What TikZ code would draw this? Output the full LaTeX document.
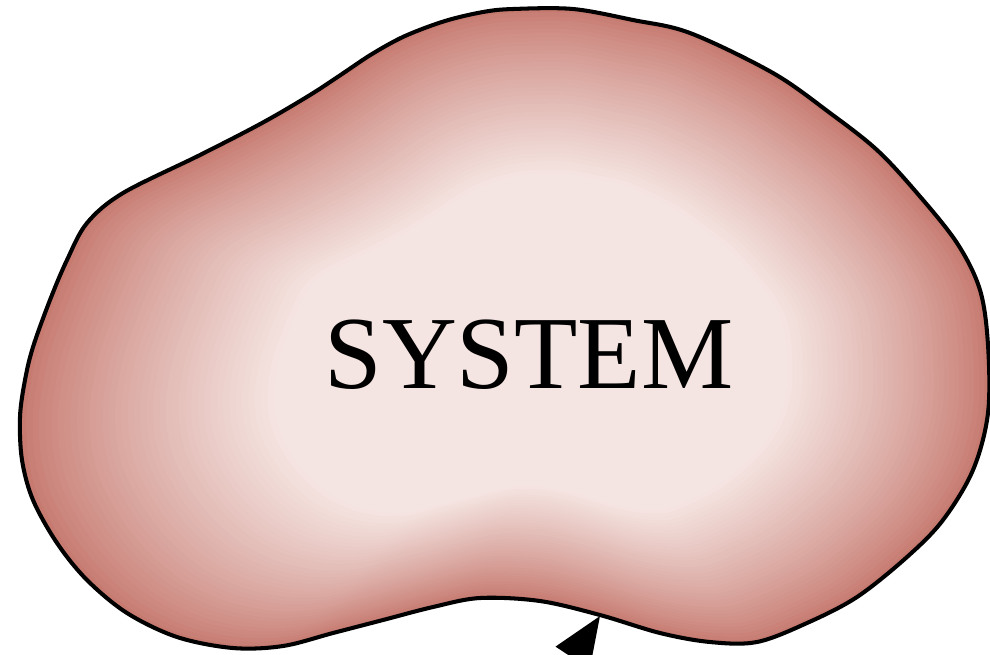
\documentclass[tikz,border=0pt]{standalone}
\usepackage{fontspec}
\setmainfont{Liberation Serif}
\usetikzlibrary{arrows.meta}

\definecolor{blobedge}{RGB}{198,122,112}
\definecolor{blobcore}{RGB}{245,229,226}

\newcommand{\blobpath}{plot[smooth cycle, tension=0.55] coordinates {
    (513,9) (573,9) (633,20) (690,33) (773,73) (830,113) (877,150)
    (917,193) (957,243) (980,290) (988,345) (988,413) (973,470)
    (943,520) (907,557) (857,597) (807,623) (757,642) (710,642)
    (660,633) (600,615) (540,601) (480,598) (433,607) (383,620)
    (333,633) (283,646) (233,648) (177,637) (127,613) (87,580)
    (57,543) (33,500) (22,460) (20,417) (25,380) (33,347) (50,300)
    (67,260) (87,223) (123,193) (200,155) (262,123) (310,95)
    (342,74) (372,54) (405,36) (445,21) (483,12)}}

\begin{document}
\begin{tikzpicture}[
    x=0.02cm, y=-0.02cm,
    outline/.style={draw=black, line width=2.3pt, line join=round},
    label/.style={font=\fontsize{59}{60}\selectfont, anchor=base},
    inflow/.style={line width=2pt, -{Triangle[length=1cm, width=0.8cm]}}
]

\useasboundingbox (0,0) rectangle (990,654);
\clip (0,0) rectangle (990,654);

\coordinate (cen) at (560,360);

% shaded body
\begin{scope}
    \clip \blobpath;
    \foreach \i in {0,...,40}{
        \pgfmathsetmacro{\s}{1-0.47*\i/40}
        \pgfmathsetmacro{\m}{100*(\i/40)^0.85}
        \fill[blobcore!\m!blobedge, scale around={\s:(cen)}] \blobpath;
    }
\end{scope}
\path[outline] \blobpath;

\node[label] (sys) at (529,388) {SYSTEM};

\coordinate (tip) at (600,616);
\coordinate (tail) at (545,700);
\draw[inflow] (tail) -- (tip);

\end{tikzpicture}
\end{document}
